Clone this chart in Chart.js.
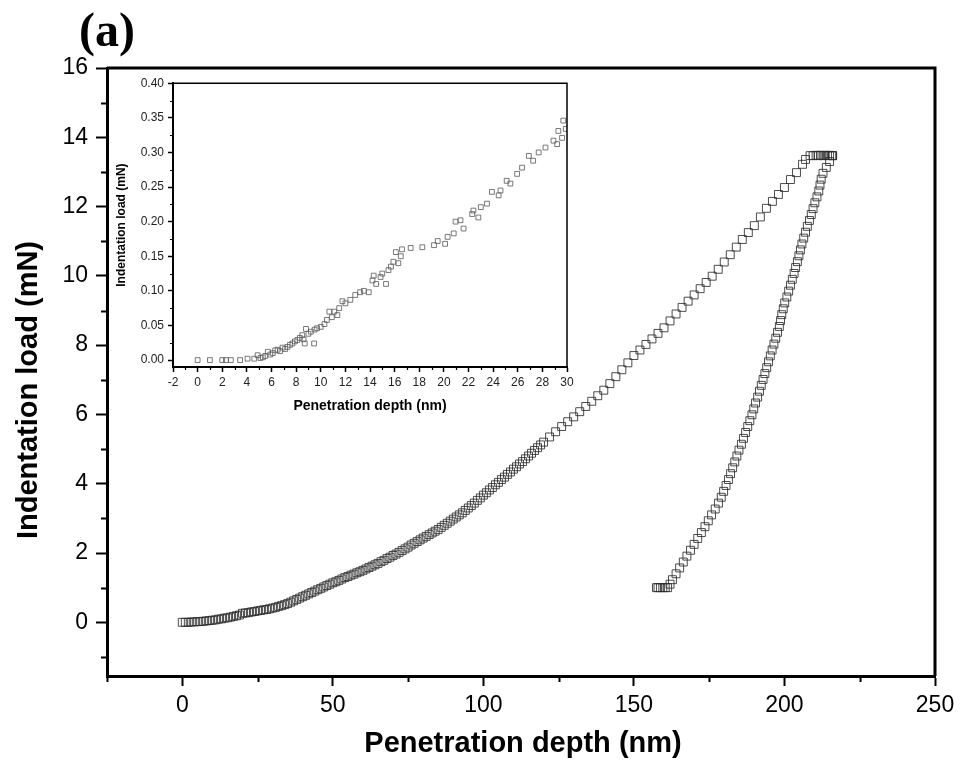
<!DOCTYPE html>
<html>
<head>
<meta charset="utf-8">
<script src="https://cdn.jsdelivr.net/npm/chart.js@4.4.1/dist/chart.umd.min.js"></script>
<style>
html,body{margin:0;padding:0;background:#fff;}
#wrap{position:relative;width:963px;height:776px;}
#main{position:absolute;left:0;top:0;}
#inset{position:absolute;left:110px;top:72px;}
</style>
</head>
<body>
<div id="wrap">
<canvas id="main" width="963" height="776"></canvas>
<canvas id="inset" width="470" height="350"></canvas>
</div>
<script>
// ---------- data ----------
// Main chart: loading branch
const loadDepth = [0,1,2,3,4,5,6,7,8,9,10,11,12,13,14,15,16,17,18,19,20,21,22,23,24,25,26,27,28,29,30,31,32,33,34,35,36,37,38,39,40,41,42,43,44,45,46,47,48,49,50,51,52,53,54,55,56,57,58,59,60,61,62,63,64,65,66,67,68,69,70,71,72,73,74,75,76,77,78,79,80,81,82,83,84,85,86,87,88,89,90,91,92,93,94,95,96,97,98,99,100,101,102,103,104,105,106,107,108,109,110,111,112,113,114,115,116,117,118,119,120,122,124,126,128,130,132,134,136,138,140,142,144,146,148,150,152,154,156,158,160,162,164,166,168,170,172,174,176,178,180,182,184,186,188,190,192,194,196,198,200,202,204,206,207];
const loadForce = [0,0.00,0.00,0.01,0.01,0.02,0.02,0.03,0.04,0.05,0.06,0.07,0.09,0.10,0.12,0.13,0.15,0.17,0.19,0.21,0.26,0.27,0.28,0.30,0.31,0.33,0.34,0.36,0.37,0.39,0.41,0.43,0.46,0.48,0.51,0.54,0.58,0.62,0.66,0.70,0.74,0.78,0.82,0.86,0.90,0.94,0.98,1.02,1.06,1.10,1.14,1.17,1.21,1.25,1.29,1.32,1.36,1.39,1.43,1.46,1.50,1.54,1.58,1.62,1.66,1.70,1.75,1.79,1.84,1.88,1.93,1.97,2.02,2.07,2.12,2.17,2.23,2.28,2.33,2.38,2.43,2.48,2.53,2.58,2.63,2.68,2.74,2.80,2.86,2.92,2.98,3.04,3.10,3.16,3.23,3.30,3.37,3.44,3.52,3.59,3.67,3.74,3.82,3.89,3.97,4.04,4.12,4.19,4.27,4.34,4.42,4.49,4.57,4.64,4.72,4.80,4.88,4.96,5.04,5.12,5.20,5.35,5.50,5.65,5.79,5.93,6.08,6.23,6.38,6.54,6.70,6.89,7.09,7.29,7.49,7.70,7.86,8.02,8.18,8.34,8.50,8.70,8.90,9.09,9.27,9.45,9.63,9.81,9.99,10.19,10.40,10.61,10.83,11.05,11.25,11.45,11.70,11.95,12.15,12.35,12.55,12.78,12.98,13.22,13.36];
// Hold at peak load
const holdDepth = [208.5,209.5,210.5,211.3,212.0,212.8,213.5,214.3,215.0,215.7,216.0];
const holdForce = [13.47,13.47,13.48,13.47,13.48,13.47,13.48,13.47,13.48,13.47,13.47];
// Unloading branch
const unloadDepth = [216.0,215.0,213.9,212.8,212.2,211.8,211.4,210.8,210.1,209.5,208.9,208.3,207.6,207.0,206.4,205.8,205.3,204.8,204.3,203.7,203.2,202.6,202.0,201.4,200.8,200.1,199.6,199.1,198.7,198.3,197.7,197.1,196.5,195.9,195.3,194.7,194.1,193.5,192.9,192.3,191.7,191.1,190.4,189.8,189.2,188.5,187.8,187.1,186.4,185.7,184.9,184.2,183.5,182.8,182.1,181.4,180.6,179.8,179.0,178.1,177.0,175.8,174.7,173.6,172.4,171.2,170.0,168.8,167.6,166.4,165.2,164.0,162.8,162.0,161.2,160.4,159.6,158.8,158.0,157.5];
const unloadForce = [13.47,13.30,13.13,12.96,12.79,12.62,12.45,12.28,12.11,11.94,11.77,11.60,11.43,11.26,11.09,10.92,10.75,10.58,10.41,10.24,10.07,9.90,9.73,9.56,9.39,9.22,9.05,8.88,8.71,8.54,8.37,8.20,8.03,7.86,7.69,7.52,7.35,7.18,7.01,6.84,6.67,6.50,6.33,6.16,5.99,5.82,5.65,5.48,5.31,5.14,4.97,4.80,4.63,4.46,4.29,4.12,3.95,3.78,3.61,3.44,3.27,3.10,2.93,2.76,2.59,2.42,2.25,2.08,1.91,1.74,1.57,1.40,1.23,1.10,1.00,1.00,1.00,1.00,1.00,1.00];
// Inset: initial contact region
const insetDepth = [0,1.0,2.0,2.3,2.7,3.45,4.05,4.6,4.87,5.1,5.3,5.5,5.7,5.9,6.1,6.3,6.5,6.7,6.9,7.1,7.3,7.5,7.7,7.9,8.1,8.3,8.5,8.6,8.7,8.8,9.0,9.2,9.46,9.5,9.7,10.0,10.3,10.5,10.7,10.9,11.1,11.35,11.5,11.76,12.0,12.4,12.8,13.2,13.5,13.9,14.2,14.3,14.5,14.86,15.0,15.3,15.5,15.7,15.9,16.1,16.3,16.5,16.6,17.3,18.25,19.2,19.5,20.1,20.3,20.8,20.95,21.35,21.6,22.3,22.4,22.8,23.0,23.5,23.9,24.45,24.6,25.1,25.4,25.95,26.35,26.9,27.25,27.7,28.25,28.9,29.2,29.3,29.6,29.7,29.9];
const insetForce = [0,0,0,0,0,0,0.002,0.002,0.007,0.003,0.004,0.006,0.012,0.008,0.010,0.014,0.015,0.013,0.018,0.016,0.019,0.022,0.024,0.027,0.029,0.032,0.036,0.030,0.024,0.045,0.038,0.041,0.024,0.044,0.046,0.048,0.052,0.058,0.070,0.062,0.070,0.065,0.075,0.085,0.082,0.087,0.094,0.098,0.100,0.098,0.115,0.122,0.110,0.120,0.125,0.110,0.130,0.135,0.142,0.156,0.140,0.150,0.160,0.162,0.163,0.166,0.172,0.168,0.178,0.183,0.200,0.202,0.190,0.211,0.216,0.206,0.221,0.226,0.243,0.238,0.245,0.259,0.255,0.269,0.278,0.295,0.288,0.300,0.307,0.317,0.312,0.331,0.321,0.346,0.334];

// Axis ticks
const xTicks = [0,50,100,150,200,250];
const xMinor = [-25,25,75,125,175,225];
const yTicks = [0,2,4,6,8,10,12,14,16];
const yMinor = [-1,1,3,5,7,9,11,13,15];
const insetXTicks = [-2,0,2,4,6,8,10,12,14,16,18,20,22,24,26,28,30];
const insetXMinor = [-1,1,3,5,7,9,11,13,15,17,19,21,23,25,27,29];
const insetYTicks = [0,0.05,0.10,0.15,0.20,0.25,0.30,0.35,0.40];
const insetYMinor = [0.025,0.075,0.125,0.175,0.225,0.275,0.325,0.375];

const panelLabel = '(a)';
const xTitle = 'Penetration depth (nm)';
const yTitle = 'Indentation load (mN)';

// ---------- helpers ----------
const pts = (xs, ys) => xs.map((x, i) => ({x: x, y: ys[i]}));
const FONT = "'Liberation Sans', Arial, sans-serif";

function framePlugin(cfg) {
  return {
    id: 'frame_' + cfg.name,
    afterDraw(chart) {
      const {ctx, chartArea: a, scales} = chart;
      ctx.save();
      ctx.strokeStyle = '#000';
      ctx.lineWidth = cfg.frameW;
      ctx.beginPath();
      ctx.moveTo(a.left, a.top);
      ctx.lineTo(a.right, a.top);
      ctx.lineTo(a.right, a.bottom);
      ctx.stroke();
      ctx.lineWidth = cfg.minorW;
      ctx.beginPath();
      cfg.xMinor.forEach(v => {
        const px = Math.round(scales.x.getPixelForValue(v)) + 0.5;
        ctx.moveTo(px, a.bottom);
        ctx.lineTo(px, a.bottom + cfg.minorLen);
      });
      cfg.yMinor.forEach(v => {
        const py = Math.round(scales.y.getPixelForValue(v)) + 0.5;
        ctx.moveTo(a.left, py);
        ctx.lineTo(a.left - cfg.minorLen, py);
      });
      ctx.stroke();
      ctx.fillStyle = '#000';
      ctx.font = cfg.titleFont;
      ctx.textAlign = 'center';
      ctx.textBaseline = 'alphabetic';
      ctx.fillText(xTitle, cfg.xTitleX(a), cfg.xTitleY(a));
      ctx.save();
      ctx.translate(cfg.yTitleX(a), cfg.yTitleY(a));
      ctx.rotate(-Math.PI / 2);
      ctx.font = cfg.yTitleFont || cfg.titleFont;
      ctx.fillText(yTitle, 0, 0);
      ctx.restore();
      if (cfg.panel) {
        ctx.font = "bold 48px 'Liberation Serif', 'Times New Roman', serif";
        ctx.textAlign = 'center';
        ctx.fillText(panelLabel, 107, 46);
      }
      ctx.restore();
    }
  };
}

// ---------- main chart ----------
const markerMain = {
  pointStyle: 'rect', pointRadius: 5.6, pointBorderWidth: 1,
  pointBorderColor: 'rgba(45,45,45,0.85)', pointBackgroundColor: 'rgba(255,255,255,0)',
  showLine: false
};
new Chart(document.getElementById('main'), {
  type: 'scatter',
  data: {
    datasets: [
      Object.assign({label: 'loading', data: pts(loadDepth, loadForce)}, markerMain),
      Object.assign({label: 'hold', data: pts(holdDepth, holdForce)}, markerMain),
      Object.assign({label: 'unloading', data: pts(unloadDepth, unloadForce)}, markerMain)
    ]
  },
  options: {
    responsive: false, animation: false, devicePixelRatio: 1,
    layout: {padding: {top: 68, right: 28, bottom: 0, left: 0}},
    plugins: {legend: {display: false}, tooltip: {enabled: false}},
    scales: {
      x: {
        type: 'linear', min: -25, max: 250,
        afterBuildTicks: s => { s.ticks = xTicks.map(v => ({value: v})); },
        afterFit: s => { s.height = 100; },
        ticks: {color: '#000', font: {family: FONT, size: 23}, padding: 6, maxRotation: 0, callback: v => String(v)},
        grid: {display: true, drawOnChartArea: false, drawTicks: true, tickLength: 10, tickWidth: 2, tickColor: '#000'},
        border: {display: true, color: '#000', width: 3}
      },
      y: {
        type: 'linear', min: -1.55, max: 16,
        afterBuildTicks: s => { s.ticks = yTicks.map(v => ({value: v})); },
        afterFit: s => { s.width = 107; },
        ticks: {color: '#000', font: {family: FONT, size: 23}, padding: 8, callback: v => String(v)},
        grid: {display: true, drawOnChartArea: false, drawTicks: true, tickLength: 11, tickWidth: 2, tickColor: '#000'},
        border: {display: true, color: '#000', width: 3}
      }
    }
  },
  plugins: [framePlugin({
    name: 'main', frameW: 3, minorW: 2, minorLen: 6, xMinor: xMinor, yMinor: yMinor,
    titleFont: "bold 29px " + FONT,
    xTitleX: a => (a.left + a.right) / 2 + 2, xTitleY: a => 752,
    yTitleX: a => 37, yTitleY: a => 390,
    panel: true
  })]
});

// ---------- inset chart ----------
new Chart(document.getElementById('inset'), {
  type: 'scatter',
  data: {
    datasets: [{
      label: 'inset', data: pts(insetDepth, insetForce),
      pointStyle: 'rect', pointRadius: 3.4, pointBorderWidth: 0.9,
      pointBorderColor: 'rgba(90,90,90,0.9)', pointBackgroundColor: 'rgba(255,255,255,0)',
      showLine: false
    }]
  },
  options: {
    responsive: false, animation: false, devicePixelRatio: 1,
    layout: {padding: {top: 11, right: 13, bottom: 0, left: 0}},
    plugins: {legend: {display: false}, tooltip: {enabled: false}},
    scales: {
      x: {
        type: 'linear', min: -2, max: 30,
        afterBuildTicks: s => { s.ticks = insetXTicks.map(v => ({value: v})); },
        afterFit: s => { s.height = 55; },
        ticks: {color: '#222', font: {family: FONT, size: 12}, padding: 3, maxRotation: 0, autoSkip: false, callback: v => String(v)},
        grid: {display: true, drawOnChartArea: false, drawTicks: true, tickLength: 5, tickWidth: 1.5, tickColor: '#000'},
        border: {display: true, color: '#000', width: 2}
      },
      y: {
        type: 'linear', min: -0.01, max: 0.40,
        afterBuildTicks: s => { s.ticks = insetYTicks.map(v => ({value: v})); },
        afterFit: s => { s.width = 63; },
        ticks: {color: '#222', font: {family: FONT, size: 12}, padding: 4, autoSkip: false, callback: v => Number(v).toFixed(2)},
        grid: {display: true, drawOnChartArea: false, drawTicks: true, tickLength: 5, tickWidth: 1.5, tickColor: '#000'},
        border: {display: true, color: '#000', width: 2}
      }
    }
  },
  plugins: [framePlugin({
    name: 'inset', frameW: 1.5, minorW: 1.2, minorLen: 3, xMinor: insetXMinor, yMinor: insetYMinor,
    titleFont: "bold 14px " + FONT, yTitleFont: "bold 12px " + FONT,
    xTitleX: a => (a.left + a.right) / 2, xTitleY: a => 338,
    yTitleX: a => 15, yTitleY: a => (a.top + a.bottom) / 2,
    panel: false
  })]
});
</script>
</body>
</html>
